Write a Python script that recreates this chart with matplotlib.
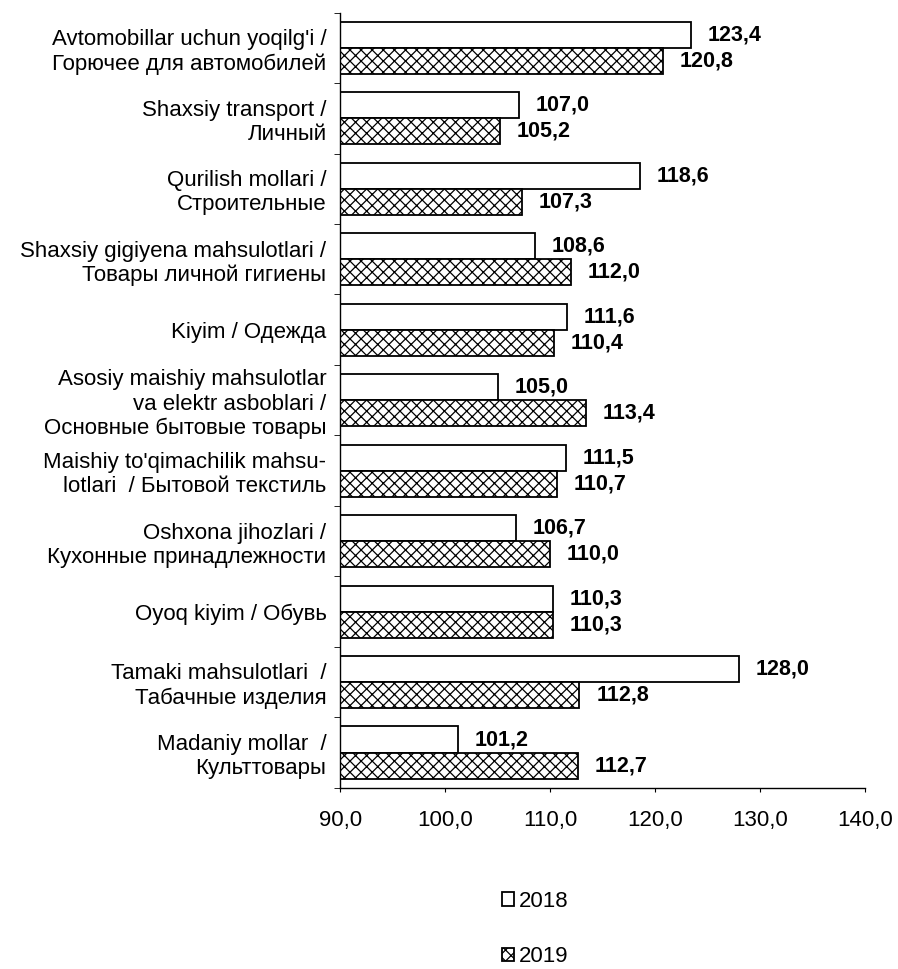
import matplotlib.pyplot as plt
import numpy as np

plt.rcParams['font.family'] = ['Liberation Sans', 'DejaVu Sans']
plt.rcParams['hatch.linewidth'] = 0.9

categories = [
    "Avtomobillar uchun yoqilg'i /\nГорючее для автомобилей",
    "Shaxsiy transport /\nЛичный",
    "Qurilish mollari /\nСтроительные",
    "Shaxsiy gigiyena mahsulotlari /\nТовары личной гигиены",
    "Kiyim / Одежда",
    "Asosiy maishiy mahsulotlar\nva elektr asboblari /\nОсновные бытовые товары",
    "Maishiy to'qimachilik mahsu-\nlotlari  / Бытовой текстиль",
    "Oshxona jihozlari /\nКухонные принадлежности",
    "Oyoq kiyim / Обувь",
    "Tamaki mahsulotlari  /\nТабачные изделия",
    "Madaniy mollar  /\nКульттовары",
]
values_2018 = [123.4, 107.0, 118.6, 108.6, 111.6, 105.0, 111.5, 106.7, 110.3, 128.0, 101.2]
values_2019 = [120.8, 105.2, 107.3, 112.0, 110.4, 113.4, 110.7, 110.0, 110.3, 112.8, 112.7]
xticks = [90, 100, 110, 120, 130, 140]

fs = 16
fig = plt.figure(figsize=(8.98, 9.69), dpi=100)
ax = fig.add_axes([0.379, 0.187, 0.584, 0.8])

base = 90
n = len(categories)
y = np.arange(n)[::-1]
h = 0.37

b1 = ax.barh(y + h / 2, np.array(values_2018) - base, left=base, height=h,
             color='white', edgecolor='black', linewidth=1.3, label='2018')
b2 = ax.barh(y - h / 2, np.array(values_2019) - base, left=base, height=h,
             color='white', edgecolor='black', linewidth=1.3, hatch='xxx', label='2019')

fmt = lambda v: f"{v:.1f}".replace('.', ',')
for yy, v in zip(y, values_2018):
    ax.annotate(fmt(v), (v, yy + h / 2), xytext=(12, 0), textcoords='offset points',
                va='center', ha='left', fontsize=fs - 0.5, fontweight='bold')
for yy, v in zip(y, values_2019):
    ax.annotate(fmt(v), (v, yy - h / 2), xytext=(12, 0), textcoords='offset points',
                va='center', ha='left', fontsize=fs - 0.5, fontweight='bold')

ax.set_xlim(90, 140)
ax.set_ylim(-0.5, n - 0.5)
ax.set_xticks(xticks)
ax.set_xticklabels([fmt(t) for t in xticks], fontsize=fs)
ax.set_yticks(y)
ax.set_yticklabels(categories, fontsize=fs)
ax.set_yticks(np.arange(n + 1) - 0.5, minor=True)
ax.tick_params(axis='y', which='major', length=0, pad=10)
ax.tick_params(axis='y', which='minor', length=4)
ax.tick_params(axis='x', length=3, pad=13)

for s in ['top', 'right']:
    ax.spines[s].set_visible(False)
ax.spines['left'].set_linewidth(1.0)
ax.spines['bottom'].set_linewidth(1.0)

fig.legend(handles=[b1, b2], loc='center', bbox_to_anchor=(0.596, 0.041),
           ncol=1, frameon=False, fontsize=fs, handlelength=0.55, handleheight=0.55,
           handletextpad=0.2, labelspacing=1.55, borderpad=0)

fig.savefig('out.png', dpi=100)
